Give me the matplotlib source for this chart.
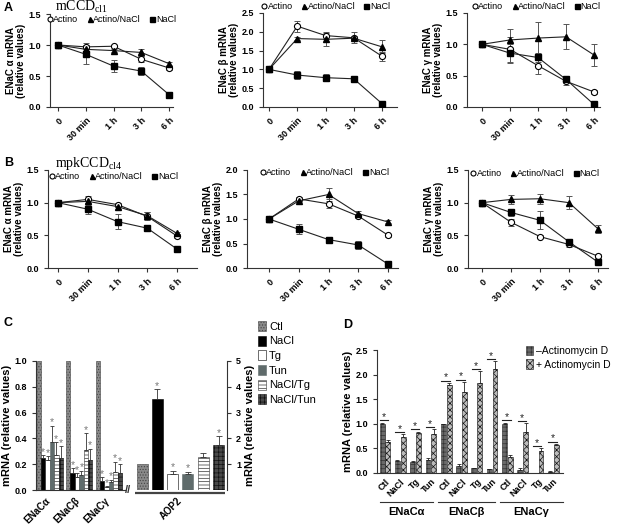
import matplotlib
matplotlib.use("Agg")
import matplotlib.pyplot as plt
import numpy as np
from matplotlib.lines import Line2D
from matplotlib.patches import Patch

plt.rcParams['font.family'] = ['Liberation Sans', 'DejaVu Sans']
plt.rcParams['hatch.linewidth'] = 0.5
plt.rcParams['mathtext.fontset'] = 'custom'
plt.rcParams['mathtext.rm'] = 'Liberation Serif'

W, H = 618, 524

# ---------------- time course data (A: mCCDcl1, B: mpkCCDcl4) ----------------
times = ["0", "30 min", "1 h", "3 h", "6 h"]
series_names = ["Actino", "Actino/NaCl", "NaCl"]

a_alpha = [[1.0, 0.97, 0.98, 0.77, 0.63], [1.0, 0.93, 0.91, 0.88, 0.70], [1.0, 0.85, 0.66, 0.58, 0.20]]
a_alpha_err = [[0, 0.06, 0.02, 0.05, 0.03], [0, 0.03, 0.03, 0.05, 0.03], [0, 0.15, 0.10, 0.06, 0.05]]
a_beta = [[1.0, 2.15, 1.90, 1.84, 1.35], [1.0, 1.82, 1.80, 1.83, 1.60], [1.0, 0.85, 0.78, 0.75, 0.09]]
a_beta_err = [[0, 0.15, 0.10, 0.15, 0.12], [0, 0.03, 0.18, 0.05, 0.17], [0, 0.10, 0.10, 0.06, 0.02]]
a_gamma = [[1.0, 0.92, 0.66, 0.41, 0.24], [1.0, 1.07, 1.10, 1.12, 0.83], [1.0, 0.86, 0.79, 0.44, 0.04]]
a_gamma_err = [[0, 0.20, 0.13, 0.06, 0.03], [0, 0.17, 0.25, 0.20, 0.17], [0, 0.15, 0.07, 0.05, 0.01]]

b_alpha = [[1.0, 1.05, 0.97, 0.79, 0.49], [1.0, 1.02, 0.94, 0.80, 0.53], [1.0, 0.90, 0.71, 0.61, 0.29]]
b_alpha_err = [[0, 0.05, 0.03, 0.06, 0.03], [0, 0.04, 0.03, 0.05, 0.02], [0, 0.07, 0.11, 0.04, 0.02]]
b_beta = [[1.0, 1.41, 1.31, 1.06, 0.67], [1.0, 1.37, 1.50, 1.11, 0.94], [1.0, 0.79, 0.58, 0.47, 0.08]]
b_beta_err = [[0, 0.04, 0.09, 0.03, 0.03], [0, 0.03, 0.14, 0.05, 0.03], [0, 0.10, 0.02, 0.08, 0.02]]
b_gamma = [[1.0, 0.70, 0.48, 0.36, 0.18], [1.0, 1.05, 1.06, 1.00, 0.60], [1.0, 0.85, 0.73, 0.40, 0.09]]
b_gamma_err = [[0, 0.05, 0.02, 0.04, 0.03], [0, 0.07, 0.08, 0.10, 0.06], [0, 0.06, 0.14, 0.04, 0.01]]

# ---------------- panel C data ----------------
c_groups = ["ENaCα", "ENaCβ", "ENaCγ"]
c_conds = ["Ctl", "NaCl", "Tg", "Tun", "NaCl/Tg", "NaCl/Tun"]
c_enac = [[1.0, 0.25, 0.23, 0.37, 0.27, 0.25],
          [1.0, 0.13, 0.10, 0.12, 0.31, 0.23],
          [1.0, 0.07, 0.02, 0.06, 0.14, 0.13]]
c_enac_err = [[0, 0.02, 0.03, 0.13, 0.10, 0.09],
              [0, 0.04, 0.03, 0.03, 0.13, 0.09],
              [0, 0.03, 0.01, 0.02, 0.08, 0.07]]
c_aqp2 = [1.0, 3.51, 0.62, 0.62, 1.27, 1.73]
c_aqp2_err = [0, 0.39, 0.12, 0.08, 0.16, 0.35]
c_aqp2_sig = [False, True, True, True, False, True]

# ---------------- panel D data ----------------
d_groups = ["ENaCα", "ENaCβ", "ENaCγ"]
d_conds = ["Ctl", "NaCl", "Tg", "Tun"]
d_minus = [1.0, 0.25, 0.22, 0.27, 1.0, 0.15, 0.10, 0.08, 1.0, 0.07, 0.01, 0.03]
d_minus_err = [0.02, 0.02, 0.03, 0.03, 0.0, 0.04, 0.01, 0.01, 0.02, 0.03, 0.0, 0.01]
d_plus = [0.63, 0.73, 0.82, 0.80, 1.78, 1.65, 1.82, 2.12, 0.33, 0.84, 0.45, 0.56]
d_plus_err = [0.04, 0.06, 0.02, 0.09, 0.05, 0.20, 0.25, 0.15, 0.04, 0.17, 0.05, 0.03]


fig = plt.figure(figsize=(W / 100, H / 100), dpi=100)


def px_axes(x0, x1, ytop, ybot):
    return fig.add_axes([x0 / W, 1 - ybot / H, (x1 - x0) / W, (ybot - ytop) / H])


def style_axes(ax):
    for s in ['top', 'right']:
        ax.spines[s].set_visible(False)
    for s in ['left', 'bottom']:
        ax.spines[s].set_linewidth(0.8)
        ax.spines[s].set_color('#333')
    ax.tick_params(length=3, width=0.8, labelsize=6.5, color='#333')
    for lab in ax.get_yticklabels():
        lab.set_fontweight('bold')


markers = [dict(marker='o', mfc='white', mec='black', ms=4.4, mew=0.8),
           dict(marker='^', mfc='black', mec='black', ms=4.4),
           dict(marker='s', mfc='black', mec='black', ms=4.8)]


def line_panel(box, pts, ylim, ystep, ylabel, vals, errs, leg_xy):
    x0, x1, ytop, ybot = box
    ax = px_axes(x0, x1, ytop, ybot)
    p0, p4 = pts
    step = (p4 - p0) / 4
    ax.set_xlim((x0 - p0) / step, (x1 - p0) / step)
    ax.set_ylim(0, ylim)
    x = np.arange(len(times))
    for k in range(3):
        ax.errorbar(x, vals[k], yerr=errs[k], fmt='none', ecolor='#555',
                    elinewidth=0.7, capsize=2, capthick=0.7, zorder=1)
        ax.plot(x, vals[k], color='#222', lw=0.8, zorder=3, **markers[k])
    ax.set_yticks(np.arange(0, ylim + 0.01, ystep))
    ax.set_yticklabels([f"{v:.1f}" for v in np.arange(0, ylim + 0.01, ystep)])
    ax.set_xticks(x)
    ax.set_xticklabels(times, rotation=45, ha='right', rotation_mode='anchor',
                       fontsize=6.5, fontweight='bold')
    ax.set_ylabel(ylabel, fontsize=7, fontweight='bold', linespacing=1.0, labelpad=2)
    style_axes(ax)
    handles = [Line2D([], [], ls='none', **dict(m, ms=3.6)) for m in markers]
    ax.legend(handles, series_names, loc='center left', bbox_to_anchor=leg_xy,
              ncol=3, frameon=False, fontsize=6.5, handlelength=0.5,
              handletextpad=0.15, columnspacing=1.0, borderaxespad=0, borderpad=0)
    return ax


line_panel((50, 173, 14, 107), (58, 169), 1.5, 0.5, "ENaC α mRNA\n(relative values)",
           a_alpha, a_alpha_err, (-0.02, 0.94))
line_panel((263, 397, 13, 107), (269, 382), 2.5, 0.5, "ENaC β mRNA\n(relative values)",
           a_beta, a_beta_err, (-0.01, 1.07))
line_panel((467, 600, 13, 107), (482, 594), 1.5, 0.5, "ENaC γ mRNA\n(relative values)",
           a_gamma, a_gamma_err, (0.04, 1.07))
line_panel((48, 197, 170, 268), (58, 177), 1.5, 0.5, "ENaC α mRNA\n(relative values)",
           b_alpha, b_alpha_err, (0.01, 0.93))
line_panel((247, 398, 170, 268), (269, 388), 2.0, 0.5, "ENaC β mRNA\n(relative values)",
           b_beta, b_beta_err, (0.09, 0.97))
line_panel((468, 608, 170, 268), (482, 598), 1.5, 0.5, "ENaC γ mRNA\n(relative values)",
           b_gamma, b_gamma_err, (0.02, 0.96))

fig.text(4 / W, 1 - 8 / H, "A", fontsize=9, fontweight='bold', va='center')
fig.text(4 / W, 1 - 163 / H, "B", fontsize=9, fontweight='bold', va='center')
fig.text(4 / W, 1 - 323 / H, "C", fontsize=9, fontweight='bold', va='center')
fig.text(343 / W, 1 - 325 / H, "D", fontsize=9, fontweight='bold', va='center')
fig.text(55 / W, 1 - 11 / H, r"$\mathrm{mCCD}_{\mathrm{cl1}}$", fontsize=10, va='baseline')
fig.text(55 / W, 1 - 167 / H, r"$\mathrm{mpkCCD}_{\mathrm{cl4}}$", fontsize=10, va='baseline')

# ---------------- panel C ----------------
c_styles = [dict(fc='#8a8a8a', hatch='......', ec='#444'),
            dict(fc='black', ec='black'),
            dict(fc='white', ec='black'),
            dict(fc='#5f6b6b', ec='#5f6b6b'),
            dict(fc='white', hatch='-----', ec='#333'),
            dict(fc='#4a4a4a', hatch='++++', ec='#111')]

axc = px_axes(36, 227, 361, 490)
axc.set_xlim(0, 191)
axc.set_ylim(0, 1.0)
bw = 4.4
group_start = [0.5, 30.0, 59.5]
for g in range(3):
    for k in range(6):
        xc = group_start[g] + bw * (k + 0.5)
        axc.bar(xc, c_enac[g][k], width=bw, lw=0.4, **c_styles[k])
        if k > 0:
            e = c_enac_err[g][k]
            axc.errorbar(xc, c_enac[g][k], yerr=[[0], [e]], fmt='none', ecolor='#333',
                         elinewidth=0.6, capsize=1.2, capthick=0.6)
            axc.text(xc, c_enac[g][k] + e - 0.012, "*", ha='center', va='bottom',
                     fontsize=7.5, color='#777')
axc.set_yticks(np.arange(0, 1.01, 0.2))
axc.set_yticklabels([f"{v:.1f}" for v in np.arange(0, 1.01, 0.2)])
axc.set_ylabel("mRNA (relative values)", fontsize=8, fontweight='bold', labelpad=2)
style_axes(axc)
axc.spines['bottom'].set_visible(False)
axc.plot([0, 89], [0, 0], color='#333', lw=0.8, clip_on=False)
axc.text(92, 0, "//", ha='center', va='center', fontsize=8, fontweight='bold', color='#333')
axc.plot([99, 189], [-0.025, -0.025], color='#444', lw=1.6, clip_on=False,
         solid_capstyle='butt')

twin = axc.twinx()
twin.set_ylim(0, 5)
for k in range(6):
    xc = 106 + 15.3 * k
    twin.bar(xc, c_aqp2[k], width=11, lw=0.4, **c_styles[k])
    if k > 0:
        e = c_aqp2_err[k]
        twin.errorbar(xc, c_aqp2[k], yerr=[[0], [e]], fmt='none', ecolor='#333',
                      elinewidth=0.6, capsize=2.5, capthick=0.6)
    if c_aqp2_sig[k]:
        twin.text(xc, c_aqp2[k] + c_aqp2_err[k] - 0.06, "*", ha='center', va='bottom',
                  fontsize=7.5, color='#777')
for s in ['top', 'left', 'bottom']:
    twin.spines[s].set_visible(False)
twin.spines['right'].set_linewidth(0.8)
twin.spines['right'].set_color('#333')
twin.set_yticks([1, 2, 3, 4, 5])
twin.set_yticklabels(["1", "2", "3", "4", "5"], fontweight='bold')
twin.tick_params(length=3, width=0.8, labelsize=6.5, color='#333')
twin.set_ylabel("mRNA (relative values)", fontsize=8, fontweight='bold', labelpad=3)

axc.set_xticks([g + bw * 3 - 4 for g in group_start] + [141])
axc.set_xticklabels(c_groups + ["AOP2"], rotation=45, ha='right', rotation_mode='anchor',
                    fontsize=7, fontweight='bold')
axc.tick_params(axis='x', length=0, pad=4)

fig.legend([Patch(lw=0.4, **s) for s in c_styles], c_conds, loc='upper left',
           bbox_to_anchor=(258 / W, 1 - 321 / H), frameon=False, fontsize=8,
           handlelength=0.7, handleheight=1.0, handletextpad=0.3, labelspacing=0.35,
           borderaxespad=0, borderpad=0)

# ---------------- panel D ----------------
d_minus_style = dict(fc='#6a6a6a', hatch='++++', ec='#333')
d_plus_style = dict(fc='#bbbbbb', hatch='xxxxx', ec='#111')

axd = px_axes(377, 563, 350, 473)
axd.set_xlim(-0.52, 11.63)
axd.set_ylim(0, 2.5)
xi = np.arange(len(d_minus))
axd.bar(xi - 0.19, d_minus, width=0.32, lw=0.4, **d_minus_style)
axd.bar(xi + 0.19, d_plus, width=0.32, lw=0.4, **d_plus_style)
axd.errorbar(xi - 0.19, d_minus, yerr=[np.zeros(12), d_minus_err], fmt='none', ecolor='#222',
             elinewidth=0.6, capsize=1.2, capthick=0.6)
axd.errorbar(xi + 0.19, d_plus, yerr=[np.zeros(12), d_plus_err], fmt='none', ecolor='#222',
             elinewidth=0.6, capsize=1.2, capthick=0.6)
for i in xi:
    top = max(d_minus[i] + d_minus_err[i], d_plus[i] + d_plus_err[i]) + 0.05
    axd.plot([i - 0.33, i + 0.22], [top, top], color='#222', lw=0.8)
    axd.text(i - 0.05, top - 0.04, "*", ha='center', va='bottom', fontsize=7.5, color='#222')
axd.set_yticks(np.arange(0, 2.51, 0.5))
axd.set_yticklabels([f"{v:.1f}" for v in np.arange(0, 2.51, 0.5)])
axd.set_ylabel("mRNA (relative values)", fontsize=8, fontweight='bold', labelpad=2)
style_axes(axd)
axd.set_xticks(xi)
axd.set_xticklabels(d_conds * 3, rotation=45, ha='right', rotation_mode='anchor',
                    fontsize=6.5, fontweight='bold')
axd.tick_params(axis='x', length=0, pad=3)
for g, (a, b) in enumerate([(-0.33, 3.14), (3.46, 7.19), (7.5, 11.6)]):
    axd.plot([a, b], [-0.59, -0.59], color='#333', lw=0.8, clip_on=False)
    axd.text((a + b) / 2, -0.8, d_groups[g], ha='center', va='center', fontsize=8,
             fontweight='bold')

fig.legend([Patch(lw=0.4, **d_minus_style), Patch(lw=0.4, **d_plus_style)],
           ["–Actinomycin D", "+ Actinomycin D"], loc='upper left',
           bbox_to_anchor=(526 / W, 1 - 346 / H), frameon=False, fontsize=7.5,
           handlelength=0.7, handleheight=1.0, handletextpad=0.3, labelspacing=0.3,
           borderaxespad=0, borderpad=0)

fig.savefig("out.png", dpi=100)
